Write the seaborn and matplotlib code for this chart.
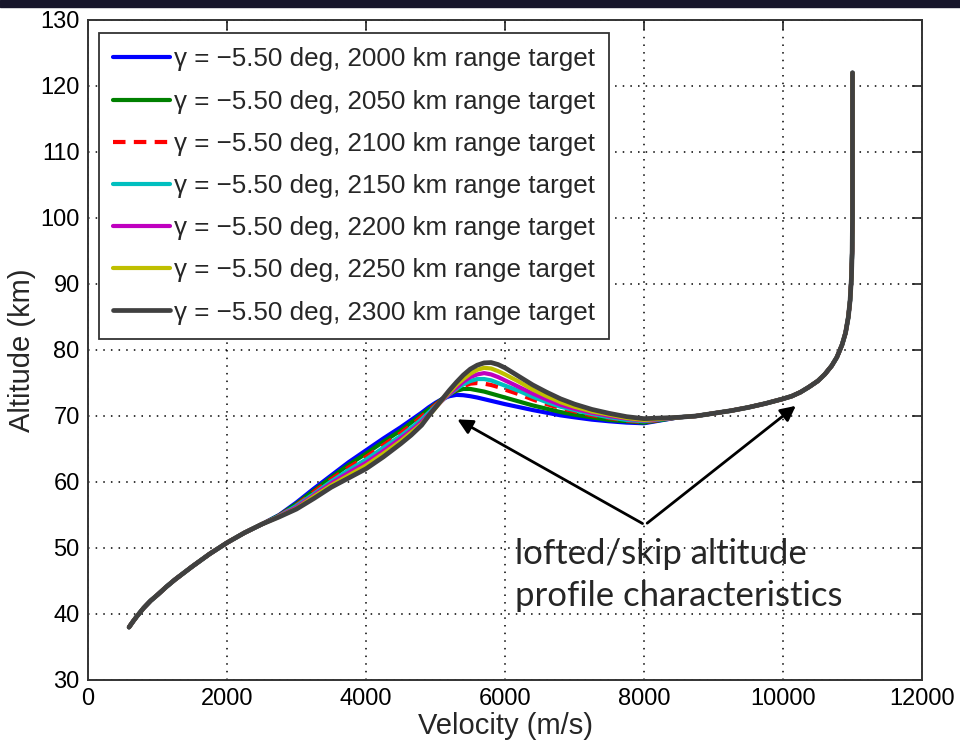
import numpy as np
import pandas as pd
import matplotlib
matplotlib.use('Agg')
import matplotlib.pyplot as plt
from matplotlib.patches import Rectangle
import seaborn as sns

# shared start of the trajectory (all targets overlap here)
v_head = [590, 650, 700, 800, 900, 1000, 1125, 1250, 1375, 1500, 1750, 2000, 2250, 2500]
h_head = [38.0, 38.9, 39.6, 40.9, 42.0, 42.9, 44.1, 45.2, 46.2, 47.2, 49.1, 50.8, 52.3, 53.6]

# part where the targets split (loft / skip)
v_mid = [2750, 3000, 3250, 3500, 3750, 4000, 4250, 4500, 4650, 4800, 4900, 5000, 5100, 5200, 5300, 5400,
         5500, 5600, 5700, 5800, 5900, 6000, 6200, 6400, 6600, 6800, 7000, 7250, 7500, 7750, 8000]
h_2000 = [55.0, 56.9, 59.0, 61.0, 63.0, 64.8, 66.6, 68.3, 69.4, 70.5, 71.3, 72.0, 72.6, 73.0, 73.2, 73.15,
          73.0, 72.8, 72.55, 72.3, 72.05, 71.8, 71.35, 70.9, 70.5, 70.1, 69.8, 69.45, 69.2, 69.0, 68.9]
h_2050 = [54.95, 56.7, 58.7, 60.7, 62.6, 64.3, 66.1, 67.8, 69.0, 70.2, 71.0, 71.8, 72.6, 73.3, 73.8, 74.1,
          74.1, 73.9, 73.7, 73.4, 73.1, 72.8, 72.2, 71.6, 71.1, 70.6, 70.2, 69.8, 69.4, 69.2, 69.0]
h_2100 = [54.9, 56.5, 58.5, 60.4, 62.2, 63.8, 65.6, 67.4, 68.6, 69.9, 70.8, 71.7, 72.5, 73.3, 74.0, 74.5,
          74.9, 75.0, 74.9, 74.7, 74.4, 74.0, 73.3, 72.5, 71.8, 71.2, 70.7, 70.1, 69.7, 69.3, 69.1]
h_2150 = [54.85, 56.4, 58.2, 60.1, 61.8, 63.4, 65.2, 67.0, 68.2, 69.5, 70.5, 71.5, 72.4, 73.3, 74.1, 74.8,
          75.3, 75.6, 75.6, 75.4, 75.0, 74.6, 73.8, 72.9, 72.1, 71.4, 70.9, 70.3, 69.8, 69.4, 69.2]
h_2200 = [54.8, 56.2, 58.0, 59.8, 61.4, 62.9, 64.7, 66.6, 67.8, 69.1, 70.2, 71.3, 72.4, 73.4, 74.3, 75.2,
          75.9, 76.3, 76.5, 76.3, 75.9, 75.4, 74.4, 73.4, 72.5, 71.7, 71.1, 70.5, 70.0, 69.6, 69.3]
h_2250 = [54.75, 56.0, 57.8, 59.5, 61.0, 62.5, 64.3, 66.2, 67.5, 68.8, 70.0, 71.2, 72.5, 73.6, 74.7, 75.6,
          76.4, 77.0, 77.3, 77.2, 76.8, 76.3, 75.2, 74.0, 73.0, 72.1, 71.4, 70.7, 70.2, 69.7, 69.4]
h_2300 = [54.7, 55.9, 57.5, 59.2, 60.6, 62.0, 63.8, 65.8, 67.1, 68.6, 70.0, 71.3, 72.6, 73.9, 75.1, 76.2,
          77.1, 77.7, 78.05, 78.1, 77.8, 77.3, 76.0, 74.7, 73.6, 72.6, 71.8, 71.0, 70.4, 69.9, 69.6]

# shared entry part at high velocity
v_tail = [8500, 8750, 9000, 9250, 9500, 9750, 10000, 10125, 10250, 10375, 10500, 10600, 10700,
          10775, 10850, 10900, 10940, 10965, 10985, 10995, 11000, 11000]
h_tail = [69.8, 70.0, 70.4, 70.8, 71.3, 71.9, 72.6, 73.0, 73.6, 74.4, 75.3, 76.3, 77.6,
          78.9, 80.8, 82.6, 85.0, 87.5, 91.0, 95.0, 100.0, 122.0]

ranges = [2000, 2050, 2100, 2150, 2200, 2250, 2300]
mids = [h_2000, h_2050, h_2100, h_2150, h_2200, h_2250, h_2300]
colors = ['#0000ff', '#008000', '#ff0000', '#00bfbf', '#bf00bf', '#bfbf00', '#404040']

sns.set_style("white")
plt.rcParams['font.family'] = ['Liberation Sans', 'DejaVu Sans']

fig = plt.figure(figsize=(9.6, 7.44), dpi=100)
fig.patches.append(Rectangle((0, 1 - 7 / 744), 1, 7 / 744, transform=fig.transFigure,
                             color='#17162b', zorder=0))
ax = fig.add_axes([88 / 960, 64 / 744, 834 / 960, 660 / 744])

for rng, mid, col in zip(ranges, mids, colors):
    df = pd.DataFrame({'v': v_head + v_mid + v_tail, 'h': h_head + mid + h_tail})
    lw = 3.4 if rng == 2300 else 3.0
    sns.lineplot(data=df, x='v', y='h', ax=ax, color=col, linewidth=lw,
                 sort=False, estimator=None,
                 label=f'γ = −5.50 deg, {rng} km range target')
    if rng == 2100:
        ax.lines[-1].set_dashes([3, 2])

ax.set_xlim(0, 12000)
ax.set_ylim(30, 130)
ax.set_xticks(np.arange(0, 12001, 2000))
ax.set_yticks(np.arange(30, 131, 10))
ax.grid(True, color='black', linestyle=(0, (1, 4)), linewidth=1.1)
ax.tick_params(direction='in', length=7, width=1.2, top=True, right=True,
               labelsize=17, pad=6, colors='#222222', labelcolor='black')
for s in ax.spines.values():
    s.set_color('#333333')
    s.set_linewidth(1.4)
ax.set_xlabel('Velocity (m/s)', fontsize=21, labelpad=1)
ax.set_ylabel('Altitude (km)', fontsize=21, labelpad=3)

leg = ax.legend(loc='upper left', bbox_to_anchor=(0.013, 0.980), borderaxespad=0,
                fontsize=18.7, frameon=True, fancybox=False, handlelength=2.2,
                handletextpad=0.15, labelspacing=0.7, borderpad=0.55)
leg.get_frame().set_edgecolor('#333333')
leg.get_frame().set_linewidth(1.3)
leg.get_frame().set_alpha(1)

# callout arrows
for tip in [(5280, 69.7), (10216, 71.8)]:
    ax.annotate('', xy=tip, xytext=(8014, 53.5),
                arrowprops=dict(arrowstyle='-|>,head_length=0.9,head_width=0.45',
                                color='black', lw=2))
ax.text(6144, 45.9, 'lofted/skip altitude\nprofile characteristics', ha='left', va='center',
        fontsize=25, family=['Lato', 'DejaVu Sans'], linespacing=1.4)

fig.savefig('out.png', dpi=100)
